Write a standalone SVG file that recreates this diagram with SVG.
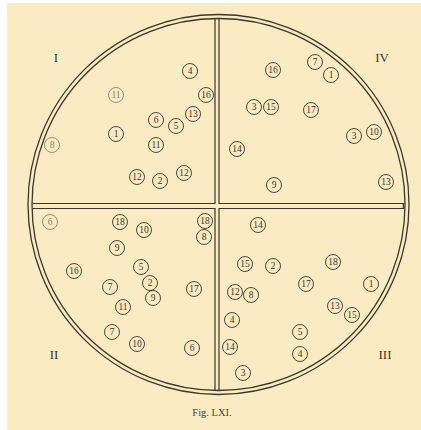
<svg xmlns="http://www.w3.org/2000/svg" width="421" height="430" viewBox="0 0 421 430">
<style>
.ring{fill:none;stroke:#3d3629;stroke-width:1.3}
.bar{fill:none;stroke:#3d3629;stroke-width:1.2}
.n circle{fill:none;stroke:#3d3629;stroke-width:0.9}
.n text{font-family:"Liberation Serif","DejaVu Serif",serif;font-size:9.5px;fill:#3d3629;text-anchor:middle}
.f circle{stroke:#8a8170}
.f text{fill:#8a8170}
.rom{font-family:"Liberation Serif","DejaVu Serif",serif;font-size:13px;fill:#3d3629;text-anchor:middle}
.cap{font-family:"Liberation Serif","DejaVu Serif",serif;font-size:10.5px;fill:#4a4232;text-anchor:middle}
</style>
<rect x="0" y="0" width="421" height="430" fill="#ffffff"/>
<rect x="7" y="3" width="414" height="427" fill="#faebc2"/>
<g id="frame">
<ellipse class="ring" cx="218.5" cy="204.5" rx="190.5" ry="190"/>
<ellipse class="ring" cx="218.5" cy="204.5" rx="186.5" ry="186"/>
</g>
<g id="connectors">
<path class="bar" d="M215,18.6 V203.5 H32.2 M219,18.6 V203.5 H404.5 M215,390.4 V208.5 H32.3 M219,390.4 V208.5 H404.4 M403.3,203.5 V208.5"/>
</g>
<g id="labels">
<text class="rom" x="56" y="62">I</text>
<text class="rom" x="382" y="62">IV</text>
<text class="rom" x="54" y="359">II</text>
<text class="rom" x="385" y="359">III</text>
<text class="cap" x="212" y="416">Fig. LXI.</text>
</g>
<g id="q1">
<g class="n" transform="translate(190,71)"><circle r="7.5"/><text y="3.3">4</text></g>
<g class="n f" transform="translate(116,95)"><circle r="7.5"/><text y="3.3">11</text></g>
<g class="n" transform="translate(206,95)"><circle r="7.5"/><text y="3.3">16</text></g>
<g class="n" transform="translate(193,114)"><circle r="7.5"/><text y="3.3">13</text></g>
<g class="n" transform="translate(156,120)"><circle r="7.5"/><text y="3.3">6</text></g>
<g class="n" transform="translate(176,126)"><circle r="7.5"/><text y="3.3">5</text></g>
<g class="n" transform="translate(116,134)"><circle r="7.5"/><text y="3.3">1</text></g>
<g class="n" transform="translate(156,145)"><circle r="7.5"/><text y="3.3">11</text></g>
<g class="n f" transform="translate(52,145)"><circle r="7.5"/><text y="3.3">8</text></g>
<g class="n" transform="translate(137,177)"><circle r="7.5"/><text y="3.3">12</text></g>
<g class="n" transform="translate(160,181)"><circle r="7.5"/><text y="3.3">2</text></g>
<g class="n" transform="translate(184,173)"><circle r="7.5"/><text y="3.3">12</text></g>
</g>
<g id="q4">
<g class="n" transform="translate(315,62)"><circle r="7.5"/><text y="3.3">7</text></g>
<g class="n" transform="translate(331,75)"><circle r="7.5"/><text y="3.3">1</text></g>
<g class="n" transform="translate(273,70)"><circle r="7.5"/><text y="3.3">16</text></g>
<g class="n" transform="translate(254,107)"><circle r="7.5"/><text y="3.3">3</text></g>
<g class="n" transform="translate(271,107)"><circle r="7.5"/><text y="3.3">15</text></g>
<g class="n" transform="translate(311,110)"><circle r="7.5"/><text y="3.3">17</text></g>
<g class="n" transform="translate(354,136)"><circle r="7.5"/><text y="3.3">3</text></g>
<g class="n" transform="translate(374,132)"><circle r="7.5"/><text y="3.3">10</text></g>
<g class="n" transform="translate(237,149)"><circle r="7.5"/><text y="3.3">14</text></g>
<g class="n" transform="translate(274,185)"><circle r="7.5"/><text y="3.3">9</text></g>
<g class="n" transform="translate(386,182)"><circle r="7.5"/><text y="3.3">13</text></g>
</g>
<g id="q2">
<g class="n f" transform="translate(50,222)"><circle r="7.5"/><text y="3.3">6</text></g>
<g class="n" transform="translate(120,222)"><circle r="7.5"/><text y="3.3">18</text></g>
<g class="n" transform="translate(144,230)"><circle r="7.5"/><text y="3.3">10</text></g>
<g class="n" transform="translate(205,221)"><circle r="7.5"/><text y="3.3">18</text></g>
<g class="n" transform="translate(204,237)"><circle r="7.5"/><text y="3.3">8</text></g>
<g class="n" transform="translate(117,248)"><circle r="7.5"/><text y="3.3">9</text></g>
<g class="n" transform="translate(141,267)"><circle r="7.5"/><text y="3.3">5</text></g>
<g class="n" transform="translate(74,271)"><circle r="7.5"/><text y="3.3">16</text></g>
<g class="n" transform="translate(110,287)"><circle r="7.5"/><text y="3.3">7</text></g>
<g class="n" transform="translate(150,283)"><circle r="7.5"/><text y="3.3">2</text></g>
<g class="n" transform="translate(153,298)"><circle r="7.5"/><text y="3.3">9</text></g>
<g class="n" transform="translate(194,289)"><circle r="7.5"/><text y="3.3">17</text></g>
<g class="n" transform="translate(123,307)"><circle r="7.5"/><text y="3.3">11</text></g>
<g class="n" transform="translate(112,332)"><circle r="7.5"/><text y="3.3">7</text></g>
<g class="n" transform="translate(137,344)"><circle r="7.5"/><text y="3.3">10</text></g>
<g class="n" transform="translate(192,348)"><circle r="7.5"/><text y="3.3">6</text></g>
</g>
<g id="q3">
<g class="n" transform="translate(258,225)"><circle r="7.5"/><text y="3.3">14</text></g>
<g class="n" transform="translate(245,264)"><circle r="7.5"/><text y="3.3">15</text></g>
<g class="n" transform="translate(273,266)"><circle r="7.5"/><text y="3.3">2</text></g>
<g class="n" transform="translate(333,262)"><circle r="7.5"/><text y="3.3">18</text></g>
<g class="n" transform="translate(306,284)"><circle r="7.5"/><text y="3.3">17</text></g>
<g class="n" transform="translate(371,284)"><circle r="7.5"/><text y="3.3">1</text></g>
<g class="n" transform="translate(235,292)"><circle r="7.5"/><text y="3.3">12</text></g>
<g class="n" transform="translate(251,295)"><circle r="7.5"/><text y="3.3">8</text></g>
<g class="n" transform="translate(335,306)"><circle r="7.5"/><text y="3.3">13</text></g>
<g class="n" transform="translate(352,315)"><circle r="7.5"/><text y="3.3">15</text></g>
<g class="n" transform="translate(232,320)"><circle r="7.5"/><text y="3.3">4</text></g>
<g class="n" transform="translate(300,332)"><circle r="7.5"/><text y="3.3">5</text></g>
<g class="n" transform="translate(230,347)"><circle r="7.5"/><text y="3.3">14</text></g>
<g class="n" transform="translate(300,354)"><circle r="7.5"/><text y="3.3">4</text></g>
<g class="n" transform="translate(243,373)"><circle r="7.5"/><text y="3.3">3</text></g>
</g>
</svg>
